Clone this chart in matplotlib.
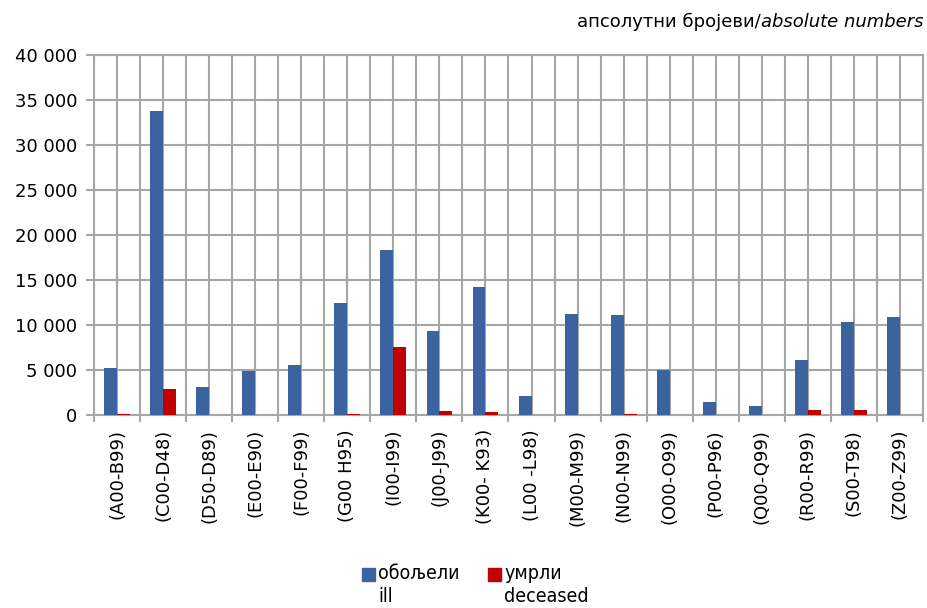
import matplotlib
matplotlib.use('Agg')
import matplotlib.pyplot as plt
from matplotlib.patches import Rectangle
import numpy as np

# podaci
kategorije = ['(A00-B99)', '(C00-D48)', '(D50-D89)', '(E00-E90)', '(F00-F99)',
              '(G00 H95)', '(I00-I99)', '(J00-J99)', '(K00- K93)', '(L00 -L98)',
              '(M00-M99)', '(N00-N99)', '(O00-O99)', '(P00-P96)', '(Q00-Q99)',
              '(R00-R99)', '(S00-T98)', '(Z00-Z99)']
oboljeli = [5200, 33800, 3150, 4900, 5550, 12450, 18300, 9330, 14200, 2100,
            11200, 11100, 5050, 1400, 950, 6100, 10300, 10900]
umrli = [100, 2900, 0, 0, 0, 150, 7550, 400, 330, 0,
         0, 150, 0, 0, 0, 550, 520, 0]
y_ticks = [0, 5000, 10000, 15000, 20000, 25000, 30000, 35000, 40000]
legenda = ['обољели\nill', 'умрли\ndeceased']

plava = '#3A63A0'
crvena = '#C00000'
siva = '#A6A6A6'

fig = plt.figure(figsize=(9.28, 6.08), dpi=100)
ax = fig.add_axes([94/928, 1 - 415/608, (923-94)/928, (415-55)/608])

x = np.arange(len(kategorije))
w = 0.28
ax.bar(x - w/2, oboljeli, w, color=plava, zorder=3)
ax.bar(x + w/2, umrli, w, color=crvena, zorder=3)

ax.set_xlim(-0.5, len(kategorije) - 0.5)
ax.set_ylim(0, 40000)
ax.set_yticks(y_ticks)
ax.set_yticklabels(['{:,}'.format(v).replace(',', ' ') for v in y_ticks], fontsize=13)
ax.set_xticks(x)
ax.set_xticklabels(kategorije, rotation=90, fontsize=13)
ax.set_xticks(np.arange(len(kategorije) + 1) - 0.5, minor=True)
ax.tick_params(axis='x', which='major', length=0, pad=10)
ax.tick_params(axis='x', which='minor', length=5, color=siva, width=1.5)
ax.tick_params(axis='y', length=6, color=siva, width=1.5, pad=6)

ax.grid(True, axis='y', color=siva, linewidth=1.5, zorder=0)
ax.grid(True, axis='x', which='both', color=siva, linewidth=1.5, zorder=0)
ax.set_axisbelow(True)
for s in ax.spines.values():
    s.set_color(siva)
    s.set_linewidth(1.5)

# legenda - kvadrat poravnat sa prvim redom
for boja, tekst, lx in zip([plava, crvena], legenda, [362, 488]):
    fig.patches.append(Rectangle((lx/928, 1 - 581/608), 13/928, 13/608,
                                 color=boja, transform=fig.transFigure))
    fig.text((lx + 16)/928, 1 - 564/608, tekst, ha='left', va='top',
             fontsize=14, fontstretch='condensed', linespacing=1.3,
             family='DejaVu Sans')

# naslov gore desno
fig.canvas.draw()
r = fig.canvas.get_renderer()
t2 = fig.text(0.995, 1 - 22/608, 'absolute numbers', ha='right', va='center',
              fontsize=13, style='italic')
bb = t2.get_window_extent(renderer=r)
fig.text(bb.x0 / fig.bbox.width, 1 - 22/608, 'апсолутни бројеви/', ha='right',
         va='center', fontsize=13)

fig.savefig('out.png', dpi=100)
